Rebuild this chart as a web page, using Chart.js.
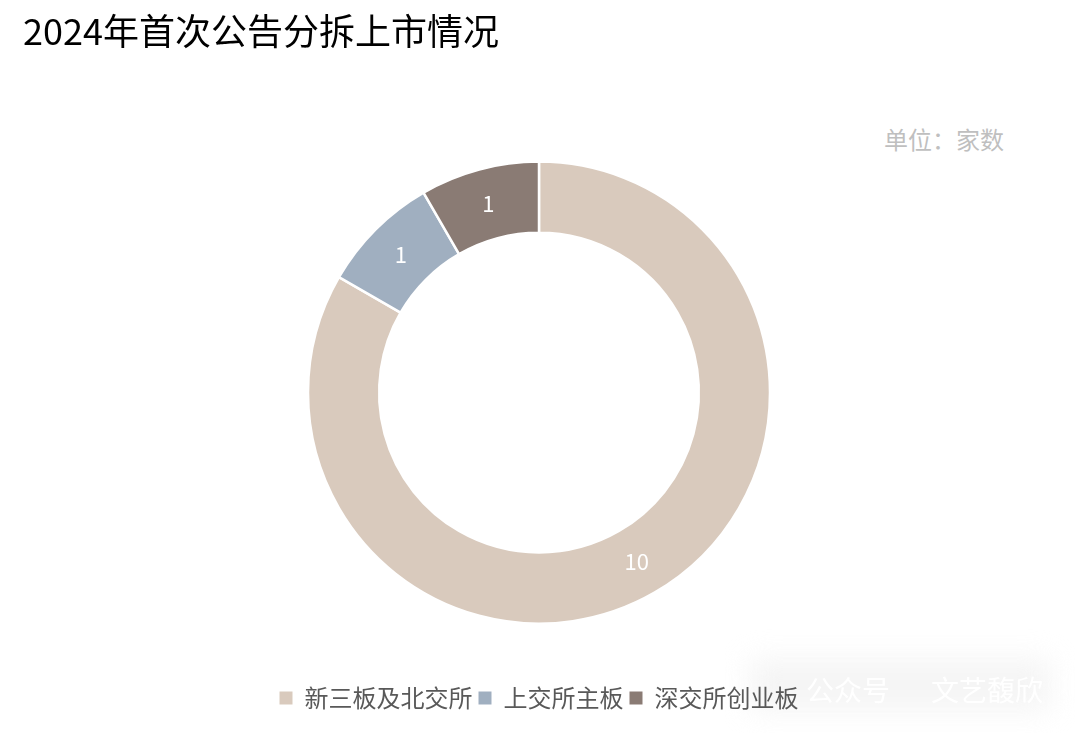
<!DOCTYPE html>
<html lang="zh">
<head>
<meta charset="utf-8">
<title>2024年首次公告分拆上市情况</title>
<script src="https://cdn.jsdelivr.net/npm/chart.js@4"></script>
<style>
	html, body { margin: 0; padding: 0; background: #fff; }
	.wrap { position: relative; width: 1080px; height: 733px; overflow: hidden; font-family: "Noto Sans CJK SC", sans-serif; }
	.wrap canvas { position: absolute; left: 0; top: 0; }
	.haze { position: absolute; left: 750px; top: 660px; width: 300px; height: 50px; background: #f1f1f1; filter: blur(14px); opacity: .75; }
	.mark { position: absolute; top: 671px; font-size: 28px; line-height: 36px; color: #fff; white-space: pre; filter: blur(.6px); }
	.unit { position: absolute; left: 884px; top: 122px; font-size: 24px; line-height: 34px; color: #bfbfbf; }
</style>
</head>
<body>
<div class="wrap">
	<div class="haze"></div>
	<div class="mark" style="left: 806px">公众号</div>
	<div class="mark" style="left: 931px">文艺馥欣</div>
	<div class="unit">单位：家数</div>
	<canvas id="chart_split" width="1080" height="733"></canvas>
</div>
<script>
const titleText = '2024年首次公告分拆上市情况';
const categories = ['新三板及北交所', '上交所主板', '深交所创业板'];
const counts = [10, 1, 1];
const colors = ['#d9cabd', '#a0afc0', '#8a7b74'];

// value labels in the middle of each ring segment
const sliceLabels = {
	id: 'sliceLabels',
	afterDatasetsDraw(chart) {
		const ctx = chart.ctx;
		ctx.save();
		ctx.fillStyle = '#fff';
		ctx.font = '22px "Noto Sans CJK SC"';
		ctx.textAlign = 'center';
		ctx.textBaseline = 'middle';
		chart.getDatasetMeta(0).data.forEach((arc, i) => {
			const p = arc.getCenterPoint();
			ctx.fillText(counts[i], p.x, p.y);
		});
		ctx.restore();
	},
};

Chart.defaults.animation = false;

const legendLabels = Chart.controllers.doughnut.overrides.plugins.legend.labels.generateLabels;

new Chart(document.getElementById('chart_split'), {
	type: 'doughnut',
	data: {
		labels: categories,
		datasets: [
			{
				data: counts,
				backgroundColor: colors,
				borderColor: '#fff',
				borderWidth: 2.5,
				radius: 231,
				cutout: '69.2%',
			},
		],
	},
	plugins: [sliceLabels],
	options: {
		responsive: false,
		layout: {
			padding: { top: 10, left: 23, right: 25, bottom: 13 },
		},
		plugins: {
			title: {
				display: true,
				text: titleText,
				align: 'start',
				color: '#000',
				font: { family: '"Noto Sans CJK SC"', size: 36, weight: 'normal' },
				padding: { top: 0, bottom: 52 },
			},
			legend: {
				position: 'bottom',
				labels: {
					color: '#595959',
					font: { family: '"Noto Sans CJK SC"', size: 24 },
					boxWidth: 13,
					boxHeight: 13,
					padding: 6,
					// no white outline on the legend squares
					generateLabels: chart => legendLabels(chart).map(item => ({ ...item, lineWidth: 0 })),
				},
			},
			tooltip: { enabled: false },
		},
	},
});
</script>
</body>
</html>
